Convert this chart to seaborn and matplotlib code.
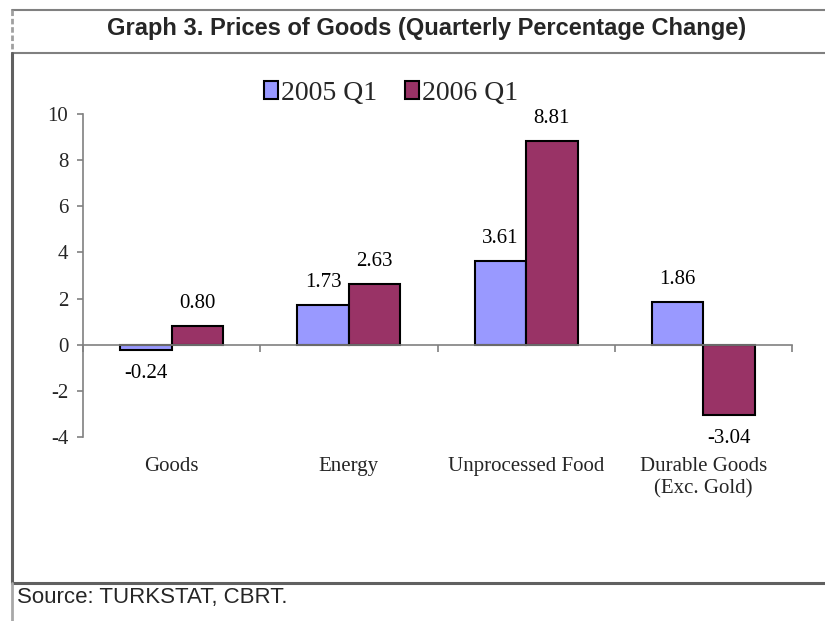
import matplotlib
matplotlib.use("Agg")
import matplotlib.pyplot as plt
import seaborn as sns
import pandas as pd
from matplotlib.lines import Line2D
from matplotlib.patches import Patch

# ---- data ----
categories = ["Goods", "Energy", "Unprocessed Food", "Durable Goods\n(Exc. Gold)"]
series_names = ["2005 Q1", "2006 Q1"]
values_2005 = [-0.24, 1.73, 3.61, 1.86]
values_2006 = [0.80, 2.63, 8.81, -3.04]
y_ticks = [-4, -2, 0, 2, 4, 6, 8, 10]
colors = ["#9999FF", "#993366"]
title_text = "Graph 3. Prices of Goods (Quarterly Percentage Change)"
source_text = "Source: TURKSTAT, CBRT."

df = pd.DataFrame({
    "category": categories * 2,
    "series": [series_names[0]] * len(categories) + [series_names[1]] * len(categories),
    "value": values_2005 + values_2006,
})

sns.set_theme(style="white")
plt.rcParams["font.family"] = ["Liberation Serif", "DejaVu Serif"]
SANS = ["Liberation Sans", "DejaVu Sans"]

W, H = 825, 621
fig = plt.figure(figsize=(W / 100, H / 100), dpi=100)
fig.patch.set_facecolor("white")
ax = fig.add_axes([83 / W, 1 - 437 / H, (792 - 83) / W, (437 - 114) / H])

sns.barplot(data=df, x="category", y="value", hue="series", order=categories,
            hue_order=series_names, palette=colors, width=0.58, gap=0,
            edgecolor="black", linewidth=1.5, saturation=1, legend=False,
            errorbar=None, ax=ax)

FS = 15
# value labels
for container, vals in zip(ax.containers, [values_2005, values_2006]):
    for bar, v in zip(container, vals):
        xc = bar.get_x() + bar.get_width() / 2
        if v >= 0:
            ax.annotate(f"{v:.2f}", (xc, v), xytext=(0, 9.5), textcoords="offset points",
                        ha="center", va="bottom", fontsize=FS, color="black")
        else:
            ax.annotate(f"{v:.2f}", (xc, v), xytext=(0, -10), textcoords="offset points",
                        ha="center", va="top", fontsize=FS, color="black")

ax.set_xlim(-0.5, len(categories) - 0.5)
ax.set_ylim(-4, 10)
ax.set_yticks(y_ticks)
ax.set_yticklabels([str(t) for t in y_ticks])
ax.set_xlabel("")
ax.set_ylabel("")

grey = "#808080"
for s in ["top", "right"]:
    ax.spines[s].set_visible(False)
ax.spines["left"].set_color(grey)
ax.spines["left"].set_linewidth(1.2)
ax.spines["bottom"].set_position(("data", 0))
ax.spines["bottom"].set_color(grey)
ax.spines["bottom"].set_linewidth(1.2)

ax.set_xticks(range(len(categories)))
ax.set_xticklabels(categories)
ax.set_xticks([i - 0.5 for i in range(len(categories) + 1)], minor=True)
ax.tick_params(axis="x", which="major", length=0, pad=81, labelsize=FS, bottom=True)
ax.tick_params(axis="x", which="minor", length=5, width=1.2, color=grey, direction="out", bottom=True)
ax.tick_params(axis="y", which="major", length=4.5, width=1.2, color=grey, direction="out",
               left=True, pad=6, labelsize=FS)
ax.set_facecolor("white")

# legend
handles = [Patch(facecolor=c, edgecolor="black", linewidth=1.5, label=n)
           for c, n in zip(colors, series_names)]
fig.legend(handles=handles, loc="center", bbox_to_anchor=(391 / W, 1 - 93 / H), ncol=2,
           frameon=False, fontsize=20, handlelength=0.5, handleheight=0.6,
           handletextpad=0.1, columnspacing=1.0, borderpad=0.2)

# title and source
fig.text(427 / W, 1 - 29 / H, title_text, ha="center", va="center", fontsize=17,
         fontweight="bold", family=SANS)
fig.text(17 / W, 1 - 598 / H, source_text, ha="left", va="center", fontsize=16, family=SANS)


# frame lines (pixel coords)
def pline(x1, y1, x2, y2, **kw):
    fig.add_artist(Line2D([x1 / W, x2 / W], [1 - y1 / H, 1 - y2 / H],
                          transform=fig.transFigure, **kw))


pline(12, 10, W, 10, color="#808080", lw=1.5)
pline(12, 10, 12, 53, color="#a0a0a0", lw=2, linestyle=(0, (2, 1)))
pline(12, 53, W, 53, color="#808080", lw=1.5)
pline(12, 53, 12, 583, color="#606060", lw=2.2)
pline(12, 583, W, 583, color="#606060", lw=2.2)
pline(12, 583, 12, H, color="#a8a8a8", lw=2)

fig.savefig("out.png", dpi=100)
